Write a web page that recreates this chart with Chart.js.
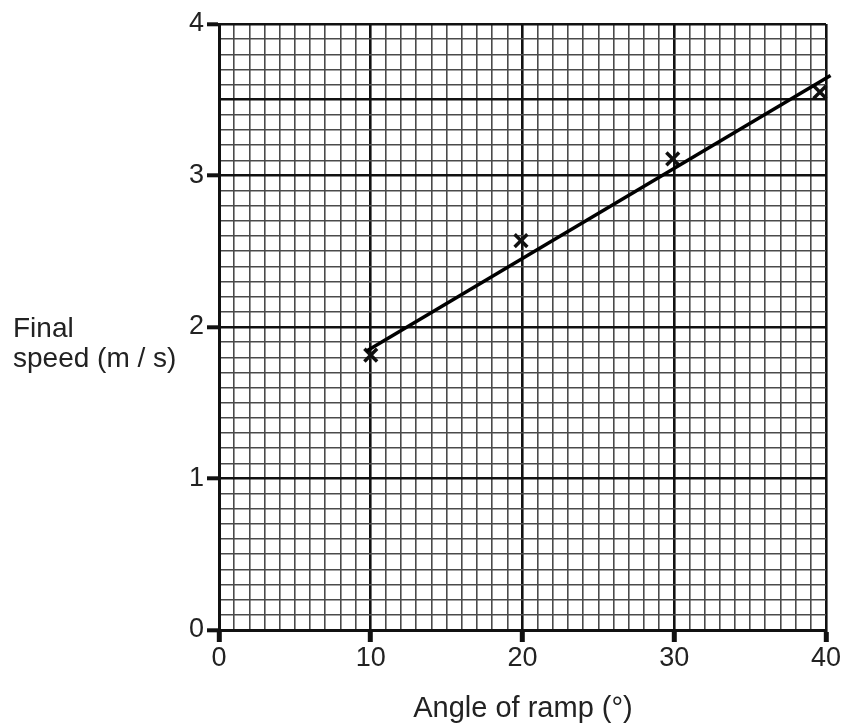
<!DOCTYPE html>
<html>
<head>
<meta charset="utf-8">
<script src="https://cdn.jsdelivr.net/npm/chart.js@4"></script>
<style>
  html, body { margin: 0; padding: 0; background: #fff; }
  #wrap { width: 841px; height: 724px; }
</style>
</head>
<body>
<div id="wrap"><canvas id="myChart" width="841" height="724"></canvas></div>
<script>
// measured points (angle in degrees, final speed in m/s)
const angles = [10, 19.9, 29.9, 39.6];
const speeds = [1.815, 2.57, 3.11, 3.55];
// hand drawn line of best fit
const fitAngles = [9.7, 40.3];
const fitSpeeds = [1.84, 3.66];
const xTicks = [0, 10, 20, 30, 40];
const yTicks = [0, 1, 2, 3, 4];
// heavier printed grid lines
const xMajor = [0, 10, 20, 30, 40];
const yMajor = [0, 1, 2, 3, 3.5, 4];

const FONT = "'Liberation Sans', Arial, sans-serif";
const TEXT = '#222';

function near(v, list) {
  return list.some(t => Math.abs(v - t) < 1e-6);
}

const labelPlugin = {
  id: 'axisTitles',
  afterDraw(chart) {
    const c = chart.ctx;
    c.save();
    c.fillStyle = TEXT;
    c.font = '28px ' + FONT;
    c.textAlign = 'left';
    c.textBaseline = 'alphabetic';
    c.fillText('Final', 13, 337);
    c.fillText('speed (m / s)', 13, 367);
    c.textAlign = 'center';
    c.font = '29px ' + FONT;
    c.fillText('Angle of ramp (°)', 523, 717);
    c.restore();
  }
};

var ctx = document.getElementById('myChart');

const chart = new Chart(ctx, {
  type: 'scatter',
  data: {
    datasets: [{
      type: 'line',
      label: 'best fit',
      data: fitAngles.map((x, i) => ({x: x, y: fitSpeeds[i]})),
      borderColor: '#000',
      borderWidth: 3.5,
      pointRadius: 0,
      fill: false,
      clip: false
    }, {
      label: 'results',
      data: angles.map((x, i) => ({x: x, y: speeds[i]})),
      pointStyle: 'crossRot',
      pointRadius: 9,
      borderColor: '#111',
      borderWidth: 3.5,
      clip: false
    }]
  },
  options: {
    responsive: false,
    animation: false,
    layout: { padding: { top: 24, right: 12, left: 0, bottom: 0 } },
    plugins: { legend: { display: false }, tooltip: { enabled: false } },
    scales: {
      x: {
        type: 'linear',
        min: 0,
        max: 40,
        afterFit(scale) { scale.height = 94; },
        ticks: {
          stepSize: 1,
          autoSkip: false,
          maxTicksLimit: 100,
          maxRotation: 0,
          padding: 0,
          color: TEXT,
          font: { family: FONT, size: 27 },
          callback: v => near(v, xTicks) ? String(Math.round(v)) : ''
        },
        grid: {
          drawTicks: true,
          tickLength: 12,
          color: c => near(c.tick.value, xMajor) ? '#111' : '#4a4a4a',
          lineWidth: c => near(c.tick.value, xMajor) ? 2.6 : 1.6,
          tickColor: c => near(c.tick.value, xTicks) ? '#111' : 'rgba(0,0,0,0)',
          tickWidth: c => near(c.tick.value, xTicks) ? 5 : 0
        },
        border: { color: '#111', width: 3 }
      },
      y: {
        type: 'linear',
        min: 0,
        max: 4,
        afterFit(scale) { scale.width = 219; },
        ticks: {
          stepSize: 0.1,
          autoSkip: false,
          maxTicksLimit: 100,
          padding: 3,
          color: TEXT,
          font: { family: FONT, size: 27 },
          callback: v => near(v, yTicks) ? String(Math.round(v)) : ''
        },
        grid: {
          drawTicks: true,
          tickLength: 12,
          color: c => near(c.tick.value, yMajor) ? '#111' : '#4a4a4a',
          lineWidth: c => near(c.tick.value, yMajor) ? 2.6 : 1.6,
          tickColor: c => near(c.tick.value, yTicks) ? '#111' : 'rgba(0,0,0,0)',
          tickWidth: c => near(c.tick.value, yTicks) ? 4 : 0
        },
        border: { color: '#111', width: 3 }
      }
    }
  },
  plugins: [labelPlugin]
});
</script>
</body>
</html>
